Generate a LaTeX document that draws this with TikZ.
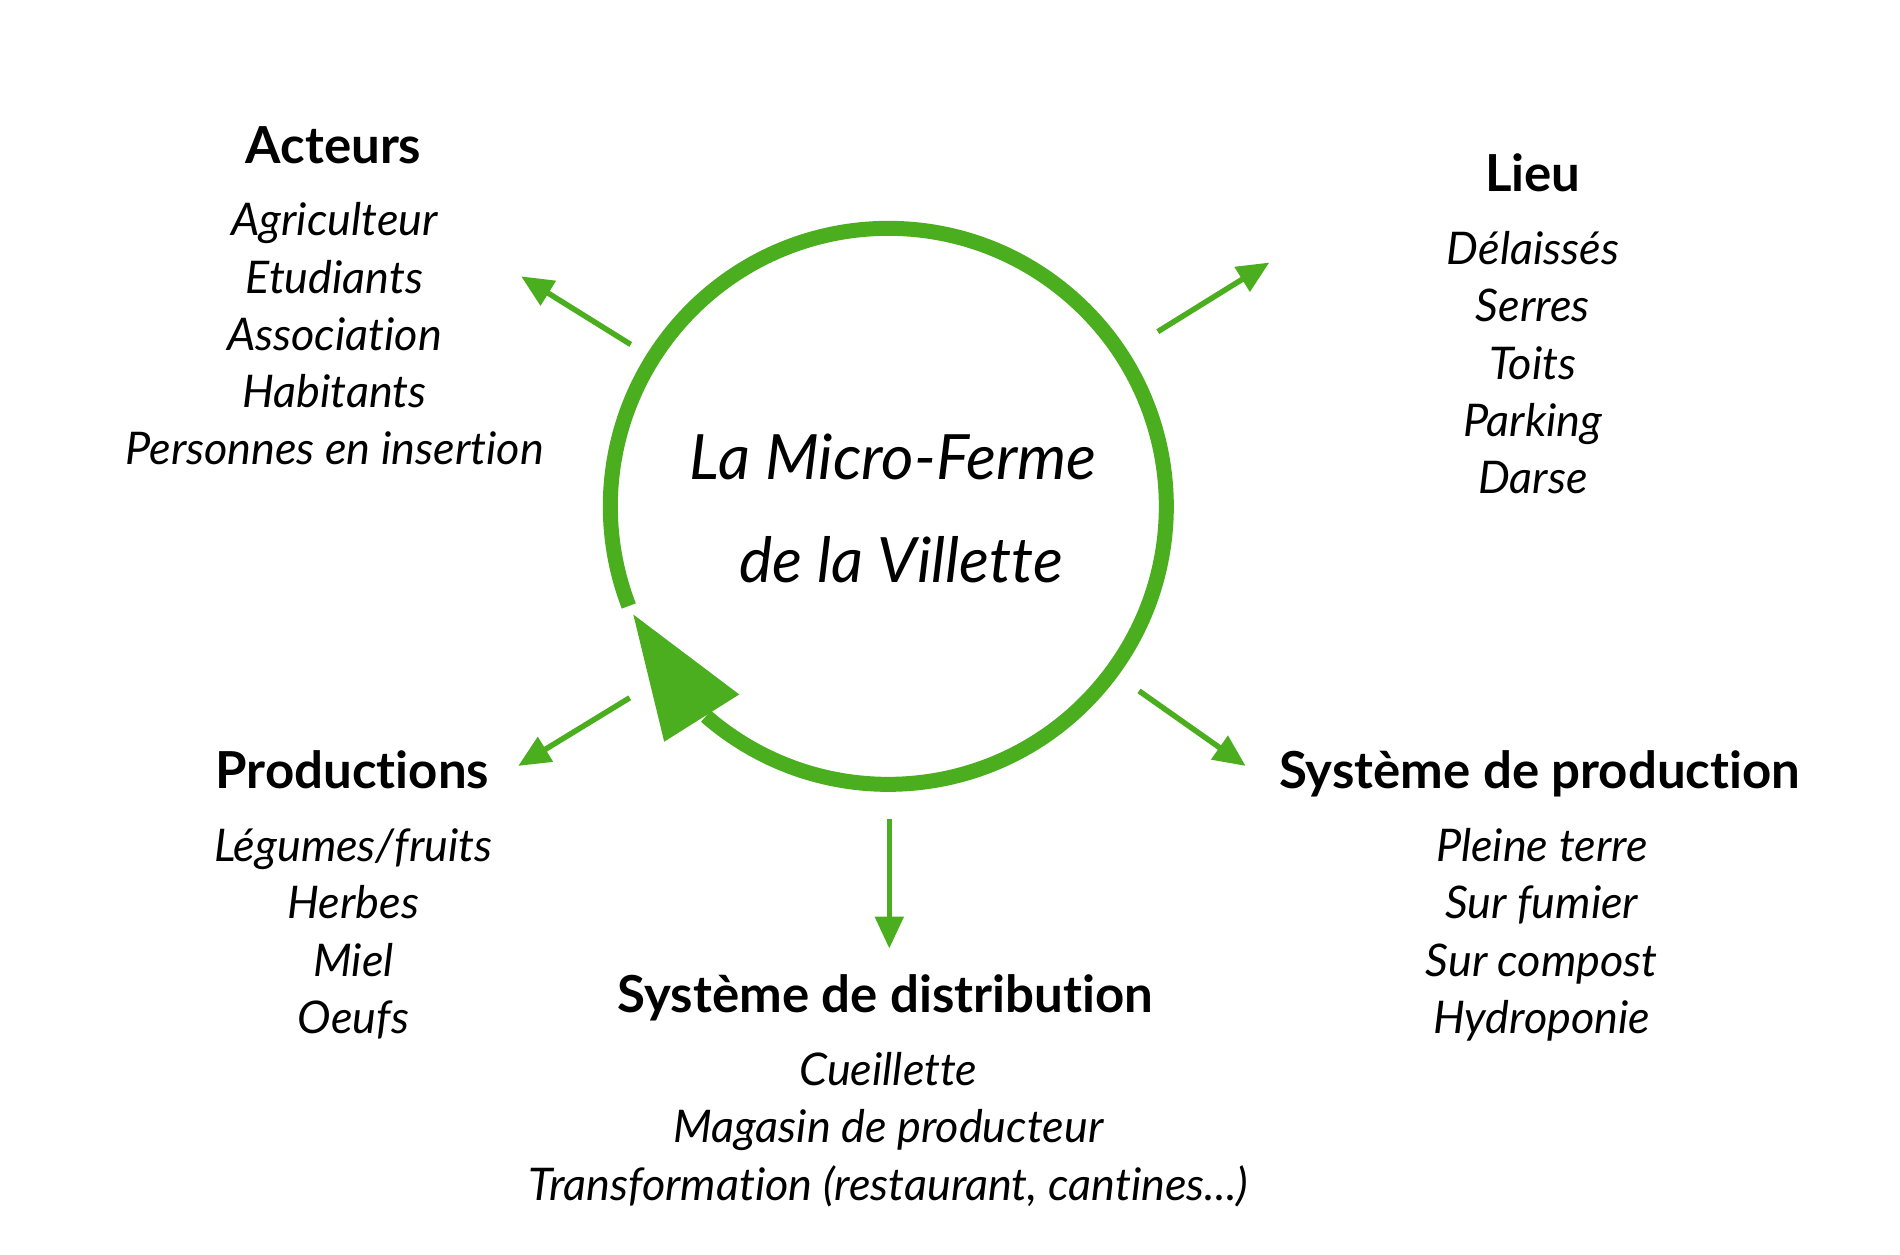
\documentclass[tikz,border=0pt]{standalone}
\usepackage{fontspec}
\setmainfont{Lato}[Ligatures={NoCommon}]
\usetikzlibrary{arrows.meta,calc}
\definecolor{farmgreen}{RGB}{74,174,30}
\begin{document}
\begin{tikzpicture}[x=0.987pt,y=-0.987pt,
  heading/.style={font=\fontsize{51}{60}\selectfont\bfseries, anchor=base, inner sep=0pt},
  entry/.style={font=\fontsize{45}{52}\selectfont\itshape, anchor=base, inner sep=0pt},
  hubtext/.style={font=\fontsize{62.5}{72}\selectfont\itshape, anchor=base, inner sep=0pt},
  link/.style={draw=farmgreen, line width=5.5pt, -{Triangle[length=32pt,width=28pt]}},
]
\useasboundingbox (0,0) rectangle (1925,1271.5);
\fill[white] (0,0) rectangle (1925,1271.5);

% central cycle
\coordinate (hub) at (900,513);
\draw[farmgreen, line width=15pt] ($(hub)+(229:278pt)$) arc[start angle=229, end angle=561, radius=278pt];
\fill[farmgreen] ($(hub)+(203:277pt)$) -- ($(hub)+(226.4:325pt)$) -- ($(hub)+(231.6:240pt)$) -- cycle;
\node[hubtext] (hubA) at (905,486) {La Micro-Ferme};
\node[hubtext] (hubB) at (913,590) {de la Villette};

% Acteurs
\node[heading] (acteurs) at (338,166) {Acteurs};
\node[entry] (a1) at (339,239) {Agriculteur};
\node[entry] (a2) at (339,297) {Etudiants};
\node[entry] (a3) at (339,355) {Association};
\node[entry] (a4) at (339,413) {Habitants};
\node[entry] (a5) at (339,471) {Personnes en insertion};

% Lieu
\node[heading] (lieu) at (1553,194) {Lieu};
\node[entry] (l1) at (1553,268) {Délaissés};
\node[entry] (l2) at (1553,326) {Serres};
\node[entry] (l3) at (1553,384) {Toits};
\node[entry] (l4) at (1553,442) {Parking};
\node[entry] (l5) at (1553,500) {Darse};

% Productions
\node[heading] (prod) at (357,799) {Productions};
\node[entry] (p1) at (358,873) {Légumes/fruits};
\node[entry] (p2) at (358,931) {Herbes};
\node[entry] (p3) at (358,989) {Miel};
\node[entry] (p4) at (358,1047) {Oeufs};

% Systeme de production
\node[heading] (sysprod) at (1560,799) {Système de production};
\node[entry] (s1) at (1562,873) {Pleine terre};
\node[entry] (s2) at (1562,931) {Sur fumier};
\node[entry] (s3) at (1562,989) {Sur compost};
\node[entry] (s4) at (1562,1047) {Hydroponie};

% Systeme de distribution
\node[heading] (sysdist) at (897,1026) {Système de distribution};
\node[entry] (d1) at (900,1100) {Cueillette};
\node[entry] (d2) at (900,1158) {Magasin de producteur};
\node[entry] (d3) at (900,1216) {Transformation (restaurant, cantines...)};

% arrows
\coordinate (fromA) at (639,349);
\coordinate (toA) at (528,280);
\coordinate (fromL) at (1173,336);
\coordinate (toL) at (1286,266);
\coordinate (fromP) at (638,707);
\coordinate (toP) at (525,776);
\coordinate (fromS) at (1154,700);
\coordinate (toS) at (1262,776);
\coordinate (fromD) at (901,830);
\coordinate (toD) at (901,961);
\draw[link] (fromA) -- (toA);
\draw[link] (fromL) -- (toL);
\draw[link] (fromP) -- (toP);
\draw[link] (fromS) -- (toS);
\draw[link] (fromD) -- (toD);
\end{tikzpicture}
\end{document}
